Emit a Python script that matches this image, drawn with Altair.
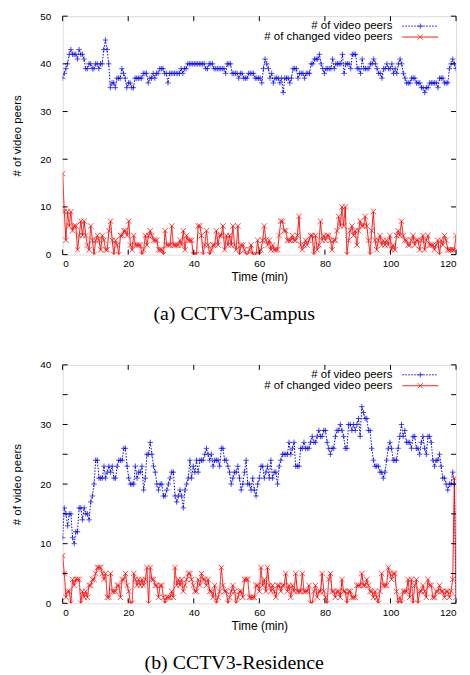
import altair as alt
import pandas as pd

TIME_MAX = 120
SERIES = ["# of video peers", "# of changed video peers"]
X_TICKS = [0, 20, 40, 60, 80, 100, 120]
A_Y_TICKS = [0, 10, 20, 30, 40, 50]
B_Y_TICKS = [0, 5, 10, 15, 20, 25, 30, 35, 40]
CAPTIONS = ["(a)  CCTV3-Campus", "(b)  CCTV3-Residence"]

# Panel (a) CCTV3-Campus
A_PEERS = [
    37, 38, 39, 40, 42, 43, 42, 42, 42, 41, 43, 42, 42, 41, 39, 39, 40, 40, 39, 39,
    40, 40, 39, 40, 40, 43, 45, 43, 40, 35, 36, 36, 35, 37, 37, 37, 39, 38, 37, 35,
    36, 36, 35, 35, 37, 37, 37, 37, 37, 38, 38, 38, 36, 37, 37, 38, 37, 38, 38, 39,
    39, 39, 38, 38, 36, 38, 38, 38, 38, 38, 38, 38, 39, 38, 39, 39, 40, 40, 40, 40,
    40, 40, 40, 40, 40, 40, 40, 39, 39, 40, 40, 40, 39, 39, 39, 39, 39, 39, 39, 38,
    40, 40, 40, 38, 38, 38, 38, 37, 38, 38, 37, 37, 37, 38, 38, 38, 38, 37, 37, 37,
    37, 36, 39, 41, 40, 39, 37, 38, 36, 37, 37, 37, 36, 37, 34, 37, 37, 37, 36, 37,
    39, 39, 39, 37, 38, 38, 38, 37, 38, 38, 38, 40, 40, 41, 41, 41, 42, 40, 39, 38,
    39, 39, 39, 39, 41, 39, 40, 40, 40, 40, 42, 38, 40, 40, 40, 39, 42, 42, 42, 39,
    39, 38, 41, 39, 39, 39, 39, 40, 40, 41, 40, 39, 38, 38, 37, 39, 39, 40, 39, 39,
    40, 38, 39, 38, 40, 41, 40, 38, 37, 36, 36, 36, 37, 37, 37, 36, 36, 36, 35, 35,
    34, 35, 35, 36, 36, 36, 36, 36, 35, 37, 37, 37, 36, 36, 36, 39, 40, 41, 40, 39,
]
A_CHANGED = [
    17, 9, 3, 9, 6, 9, 5, 6, 6, 1, 4, 7, 4, 7, 4, 2, 1, 6, 3, 0,
    3, 4, 3, 1, 4, 3, 1, 1, 5, 7, 3, 0, 3, 2, 0, 4, 4, 5, 5, 4,
    7, 2, 1, 4, 2, 2, 2, 2, 0, 1, 4, 2, 4, 5, 4, 3, 3, 3, 1, 1,
    1, 0, 5, 2, 2, 2, 6, 2, 2, 2, 2, 3, 2, 5, 1, 4, 3, 3, 3, 0,
    0, 0, 6, 6, 4, 0, 2, 5, 2, 0, 1, 2, 2, 5, 2, 4, 4, 6, 1, 4,
    2, 4, 2, 6, 2, 1, 6, 0, 2, 2, 1, 0, 0, 1, 2, 0, 0, 0, 3, 0,
    1, 3, 6, 3, 2, 3, 1, 2, 1, 1, 1, 4, 7, 7, 5, 5, 3, 3, 3, 4,
    3, 3, 4, 8, 2, 1, 2, 3, 2, 3, 4, 4, 0, 4, 1, 2, 7, 3, 4, 3,
    4, 4, 3, 1, 3, 3, 5, 8, 6, 10, 6, 10, 0, 3, 5, 6, 4, 5, 2, 5,
    7, 6, 6, 8, 6, 3, 0, 5, 9, 3, 1, 3, 4, 2, 3, 2, 3, 2, 4, 1,
    2, 1, 4, 5, 4, 7, 4, 3, 3, 2, 2, 3, 4, 2, 3, 3, 1, 3, 4, 1,
    3, 4, 2, 2, 2, 1, 2, 3, 0, 3, 2, 4, 3, 1, 1, 1, 1, 1, 4,
]

# Panel (b) CCTV3-Residence
B_PEERS = [
    11, 16, 15, 13, 15, 15, 11, 10, 12, 12, 16, 16, 14, 16, 15, 15, 14, 17, 18, 20,
    24, 24, 21, 21, 21, 23, 21, 22, 23, 22, 23, 21, 21, 23, 24, 24, 24, 26, 26, 23,
    21, 20, 20, 20, 23, 21, 22, 22, 23, 19, 21, 25, 25, 27, 25, 23, 22, 20, 19, 20,
    20, 18, 18, 19, 20, 21, 22, 22, 18, 17, 18, 19, 18, 16, 19, 20, 21, 24, 21, 23,
    22, 24, 22, 24, 24, 24, 25, 26, 25, 24, 25, 23, 24, 24, 24, 23, 26, 26, 24, 24,
    23, 22, 20, 21, 22, 22, 23, 21, 19, 20, 22, 24, 20, 20, 19, 21, 19, 18, 20, 21,
    23, 23, 21, 22, 23, 21, 24, 21, 22, 22, 20, 23, 24, 25, 25, 25, 25, 27, 25, 26,
    27, 23, 23, 23, 26, 26, 27, 26, 26, 26, 27, 28, 27, 27, 28, 29, 28, 28, 29, 29,
    27, 26, 25, 26, 26, 28, 29, 29, 30, 29, 28, 26, 26, 30, 30, 29, 30, 29, 30, 31,
    28, 33, 32, 31, 31, 29, 29, 26, 24, 23, 23, 23, 22, 22, 21, 22, 24, 26, 27, 26,
    24, 24, 24, 26, 28, 30, 28, 29, 27, 27, 27, 26, 28, 28, 26, 26, 25, 27, 28, 26,
    25, 28, 28, 27, 24, 23, 24, 24, 25, 23, 21, 21, 20, 19, 20, 20, 22, 20, 0,
]
B_CHANGED = [
    8, 5, 1, 2, 2, 0, 4, 3, 4, 4, 4, 0, 2, 1, 2, 1, 3, 3, 4, 4,
    5, 6, 6, 6, 5, 4, 5, 1, 1, 5, 2, 2, 2, 3, 3, 1, 4, 4, 5, 3,
    2, 0, 0, 5, 4, 3, 4, 3, 4, 3, 4, 6, 0, 6, 4, 4, 3, 3, 1, 3,
    3, 1, 0, 1, 1, 1, 2, 1, 6, 3, 4, 3, 4, 2, 3, 4, 5, 5, 4, 3,
    2, 2, 4, 3, 5, 4, 4, 3, 4, 2, 2, 1, 3, 0, 1, 2, 6, 3, 2, 2,
    0, 1, 2, 3, 2, 0, 1, 2, 2, 1, 4, 4, 4, 1, 1, 1, 1, 3, 3, 2,
    6, 3, 4, 2, 6, 3, 2, 3, 2, 1, 3, 3, 2, 3, 3, 5, 2, 3, 1, 3,
    2, 5, 2, 2, 2, 5, 2, 2, 2, 3, 0, 0, 2, 3, 1, 2, 2, 5, 2, 1,
    0, 4, 5, 2, 2, 1, 2, 2, 1, 4, 2, 2, 0, 2, 2, 1, 1, 1, 3, 3,
    3, 5, 3, 3, 4, 3, 2, 2, 1, 2, 1, 0, 2, 5, 3, 3, 3, 6, 5, 4,
    5, 5, 2, 0, 1, 0, 2, 2, 2, 4, 1, 4, 0, 3, 4, 0, 2, 2, 3, 2,
    1, 4, 3, 3, 1, 1, 2, 2, 3, 2, 2, 1, 2, 2, 1, 2, 4, 21, 1,
]

COLORS = ["#0000ff", "#ff0000"]
DASHES = [[1.5, 1.5], [1, 0]]
PLUS = "M-1,0L1,0M0,-1L0,1"
CROSS = "M-1,-1L1,1M-1,1L1,-1"
SHAPES = [PLUS, CROSS]

W, H = 396, 240
FONT = "Liberation Sans"


def to_df(peers, changed):
    rows = []
    for name, vals in zip(SERIES, [peers, changed]):
        n = len(vals)
        for i, v in enumerate(vals):
            rows.append({"t": i * TIME_MAX / (n - 1), "v": v, "s": name})
    return pd.DataFrame(rows)


def panel(peers, changed, ymax, yticks, caption):
    df = to_df(peers, changed)
    xs = alt.Scale(domain=[0, TIME_MAX], nice=False, zero=False)
    ys = alt.Scale(domain=[0, ymax], nice=False)
    xax = alt.Axis(values=X_TICKS, ticks=False, domain=False, grid=False,
                   labelPadding=4, title="Time (min)", titlePadding=3, format="d",
                   titleFontWeight=400, titleFontSize=12)
    yax = alt.Axis(values=yticks, ticks=False, domain=False, grid=False,
                   labelPadding=12, title="# of video peers", titlePadding=17, format="d",
                   titleFontWeight=400, titleFontSize=11.5)
    color = alt.Color("s:N", scale=alt.Scale(domain=SERIES, range=COLORS), legend=None)
    base = alt.Chart(df)
    lines = base.mark_line(strokeWidth=1, clip=True).encode(
        x=alt.X("t:Q", scale=xs, axis=xax),
        y=alt.Y("v:Q", scale=ys, axis=yax),
        color=color,
        strokeDash=alt.StrokeDash("s:N", scale=alt.Scale(domain=SERIES, range=DASHES), legend=None),
    )
    points = base.mark_point(filled=False, strokeWidth=1, size=30, clip=True).encode(
        x=alt.X("t:Q", scale=xs),
        y=alt.Y("v:Q", scale=ys),
        color=color,
        shape=alt.Shape("s:N", scale=alt.Scale(domain=SERIES, range=SHAPES), legend=None),
    )
    xt = alt.Chart(pd.DataFrame({"t": X_TICKS}))
    yt = alt.Chart(pd.DataFrame({"v": yticks}))
    tick_layers = [
        xt.mark_rule(color="black", strokeWidth=1).encode(
            x=alt.X("t:Q", scale=xs), y=alt.value(H), y2=alt.value(H - 5)),
        xt.mark_rule(color="black", strokeWidth=1).encode(
            x=alt.X("t:Q", scale=xs), y=alt.value(0), y2=alt.value(5)),
        yt.mark_rule(color="black", strokeWidth=1).encode(
            y=alt.Y("v:Q", scale=ys), x=alt.value(0), x2=alt.value(5)),
        yt.mark_rule(color="black", strokeWidth=1).encode(
            y=alt.Y("v:Q", scale=ys), x=alt.value(W), x2=alt.value(W - 5)),
    ]
    legend_layers = []
    for k, name in enumerate(SERIES):
        ly = 10 + 11 * k
        one = alt.Chart(pd.DataFrame({"s": [name]}))
        legend_layers.append(one.mark_text(text=name, align="right", baseline="middle",
                                           font=FONT, fontSize=11.5, color="black").encode(
            x=alt.value(W - 64), y=alt.value(ly)))
        legend_layers.append(one.mark_rule(color=COLORS[k], strokeWidth=1, strokeDash=DASHES[k]).encode(
            x=alt.value(W - 54), x2=alt.value(W - 18), y=alt.value(ly)))
        legend_layers.append(one.mark_point(filled=False, strokeWidth=1, size=30, color=COLORS[k],
                                            shape=SHAPES[k]).encode(
            x=alt.value(W - 36), y=alt.value(ly)))
    return alt.layer(lines, points, *tick_layers, *legend_layers).properties(
        width=W, height=H,
        title=alt.TitleParams(caption, orient="bottom", font="Liberation Serif", fontSize=20,
                              fontWeight="normal", color="black", anchor="middle",
                              frame="bounds", offset=22),
    )


pa = panel(A_PEERS, A_CHANGED, 50, A_Y_TICKS, CAPTIONS[0])
pb = panel(B_PEERS, B_CHANGED, 40, B_Y_TICKS, CAPTIONS[1])

chart = alt.vconcat(pa, pb, spacing=34).properties(
    padding={"left": 3, "top": 0, "right": 5, "bottom": 5}
).configure_view(
    stroke="black", strokeWidth=1
).configure_axis(
    labelFont=FONT, labelFontSize=12, labelColor="black",
    titleFont=FONT, titleColor="black",
).configure(background="white")

chart.save("out.html", embed_options={"renderer": "svg", "actions": False})
